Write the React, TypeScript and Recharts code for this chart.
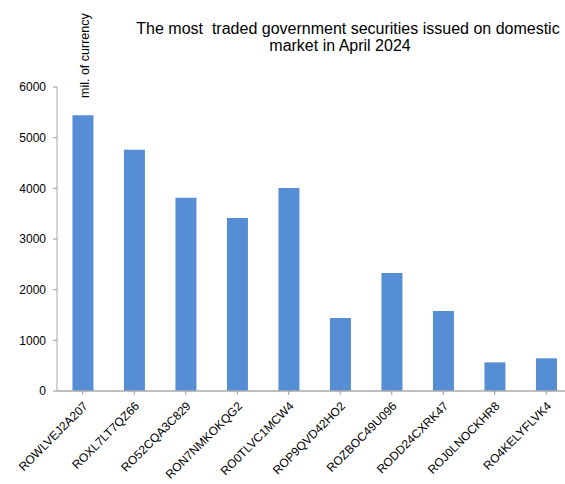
import React from 'react';
import { BarChart, Bar, XAxis, YAxis } from 'recharts';

const categories = ['ROWLVEJ2A207', 'ROXL7LT7QZ66', 'RO52CQA3C829', 'RON7NMKOKQG2', 'RO0TLVC1MCW4', 'ROP9QVD42HO2', 'ROZBOC49U096', 'RODD24CXRK47', 'ROJ0LNOCKHR8', 'RO4KELYFLVK4'];
const values = [5440, 4760, 3815, 3415, 4005, 1440, 2330, 1580, 565, 645];
const yTicks = [0, 1000, 2000, 3000, 4000, 5000, 6000];
const titleLines = ['The most  traded government securities issued on domestic', 'market in April 2024'];
const yLabel = 'mil. of currency';

const data = categories.map((c, i) => ({ name: c, value: values[i] }));
const FONT = '"Liberation Sans", Arial, sans-serif';

const XTick = (props: any) => {
  const { x, y, payload } = props;
  return (
    <g transform={`translate(${x + 3},${y + 7})`}>
      <text x={0} y={0} dy={4} textAnchor="end" transform="rotate(-45)" fontSize={12} fontFamily={FONT} fill="#000">
        {payload.value}
      </text>
    </g>
  );
};

export default function App() {
  return (
    <div style={{ position: 'absolute', left: 0, top: 0, width: 565, height: 484, overflow: 'hidden', background: '#fff' }}>
      <BarChart
        width={580}
        height={484}
        data={data}
        margin={{ top: 87, right: 8, bottom: 5, left: 0 }}
        barCategoryGap="30%"
      >
        <XAxis
          dataKey="name"
          interval={0}
          height={88}
          tickLine={{ stroke: '#999' }}
          axisLine={{ stroke: '#aaa', strokeWidth: 1.5 }}
          tickSize={4}
          tick={<XTick />}
        />
        <YAxis
          width={57}
          domain={[0, 6000]}
          ticks={yTicks}
          interval={0}
          tickSize={4}
          tickMargin={7}
          tickLine={{ stroke: '#999' }}
          axisLine={{ stroke: '#aaa', strokeWidth: 1 }}
          tick={{ fontSize: 12, fontFamily: FONT, fill: '#000' }}
        />
        <Bar dataKey="value" fill="#558ed5" isAnimationActive={false} />
      </BarChart>
      <div style={{ position: 'absolute', left: 98, top: 20, width: 500, textAlign: 'center', fontFamily: FONT, fontSize: 16, lineHeight: '17px', color: '#000', whiteSpace: 'pre' }}>
        {titleLines[0]}
      </div>
      <div style={{ position: 'absolute', left: 90, top: 37, width: 500, textAlign: 'center', fontFamily: FONT, fontSize: 16, lineHeight: '17px', color: '#000', whiteSpace: 'pre' }}>
        {titleLines[1]}
      </div>
      <div style={{ position: 'absolute', left: 78, top: 98, transformOrigin: '0 0', transform: 'rotate(-90deg)', fontFamily: FONT, fontSize: 12.5, whiteSpace: 'nowrap', color: '#000', lineHeight: '14px' }}>
        {yLabel}
      </div>
    </div>
  );
}
